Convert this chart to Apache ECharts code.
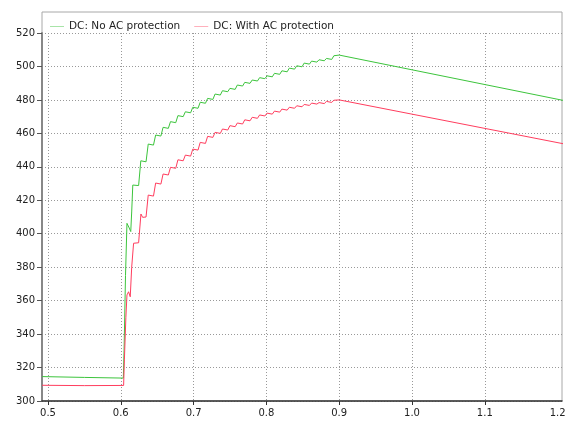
<!DOCTYPE html>
<html>
<head>
<meta charset="utf-8">
<script src="https://cdn.jsdelivr.net/npm/echarts@6/dist/echarts.min.js"></script>
<style>
  html, body { margin: 0; padding: 0; background: #fff; }
  #chart { width: 568px; height: 421px; }
</style>
</head>
<body>
<div id="chart"></div>
<script>
var seriesNames = ["DC: No AC protection", "DC: With AC protection"];
var xLabels = [0.5, 0.6, 0.7, 0.8, 0.9, 1.0, 1.1, 1.2];
var xGrid = [0.5, 0.6, 0.7, 0.8, 0.9, 1.0, 1.1];

// [time, voltage]
var noProtection = [
  [0.492, 314.6], [0.55, 314.1], [0.6035, 313.7], [0.6045, 330], [0.6065, 375], [0.6085, 406.2],
  [0.611, 404], [0.6137, 401.3], [0.615, 413], [0.6165, 429.1], [0.6245, 428.8],
  [0.6275, 443.6], [0.630, 442.7], [0.6347, 443],
  [0.6377, 453.6], [0.6402, 452.7], [0.6449, 453],
  [0.6479, 459], [0.6504, 458.1], [0.6551, 458.4],
  [0.6581, 463.6], [0.6606, 462.7], [0.6653, 463],
  [0.6683, 467], [0.6708, 466.1], [0.6755, 466.4],
  [0.6785, 470.6], [0.681, 469.7], [0.6857, 470],
  [0.6887, 472.9], [0.6912, 472], [0.6959, 472.3],
  [0.6989, 475.6], [0.7014, 474.7], [0.7061, 475],
  [0.7091, 478.6], [0.7116, 477.7], [0.7163, 478],
  [0.7193, 480.9], [0.7218, 480], [0.7265, 480.3],
  [0.7295, 483.5], [0.732, 482.6], [0.7367, 482.9],
  [0.7397, 485.5], [0.7422, 484.6], [0.7469, 484.9],
  [0.7499, 486.9], [0.7524, 486], [0.7571, 486.3],
  [0.7601, 488.9], [0.7626, 488], [0.7673, 488.3],
  [0.7703, 490.5], [0.7728, 489.6], [0.7775, 489.9],
  [0.7805, 491.9], [0.783, 491], [0.7877, 491.3],
  [0.7907, 493.3], [0.7932, 492.4], [0.7979, 492.7],
  [0.8009, 494.4], [0.8034, 493.5], [0.8081, 493.8],
  [0.8111, 495.9], [0.8136, 495], [0.8183, 495.3],
  [0.8213, 497.4], [0.8238, 496.5], [0.8285, 496.8],
  [0.8315, 499], [0.834, 498.1], [0.8387, 498.4],
  [0.8417, 500.4], [0.8442, 499.5], [0.8489, 499.8],
  [0.8519, 502], [0.8544, 501.1], [0.8591, 501.4],
  [0.8621, 503.2], [0.8646, 502.3], [0.8693, 502.6],
  [0.8723, 504], [0.8748, 503.1], [0.8795, 503.4],
  [0.8825, 504.8], [0.885, 503.9], [0.8897, 504.2],
  [0.8927, 506.4], [0.8952, 505.5],
  [0.9, 506.8], [1.21, 479.5]
];

var withProtection = [
  [0.492, 309.4], [0.55, 309.2], [0.6039, 309.3], [0.605, 325], [0.607, 350], [0.6085, 363.4],
  [0.6107, 365.3], [0.613, 362.3], [0.615, 380], [0.6176, 394.3], [0.6245, 394.6],
  [0.6277, 411.8], [0.630, 409.8], [0.6347, 410],
  [0.6377, 423.1], [0.6402, 422.2], [0.6449, 422.5],
  [0.6479, 430.3], [0.6504, 429.4], [0.6551, 429.7],
  [0.6581, 435.7], [0.6606, 434.8], [0.6653, 435.1],
  [0.6683, 439.7], [0.6708, 438.8], [0.6755, 439.1],
  [0.6785, 444.2], [0.681, 443.3], [0.6857, 443.6],
  [0.6887, 447], [0.6912, 446.1], [0.6959, 446.4],
  [0.6989, 450.6], [0.7014, 449.7], [0.7061, 450],
  [0.7091, 454.6], [0.7116, 453.7], [0.7163, 454],
  [0.7193, 458.2], [0.7218, 457.3], [0.7265, 457.6],
  [0.7295, 460.6], [0.732, 459.7], [0.7367, 460],
  [0.7397, 462.6], [0.7422, 461.7], [0.7469, 462],
  [0.7499, 464.6], [0.7524, 463.7], [0.7571, 464],
  [0.7601, 466.2], [0.7626, 465.3], [0.7673, 465.6],
  [0.7703, 468.1], [0.7728, 467.2], [0.7775, 467.5],
  [0.7805, 469.6], [0.783, 468.7], [0.7877, 469],
  [0.7907, 471], [0.7932, 470.1], [0.7979, 470.4],
  [0.8009, 472.1], [0.8034, 471.2], [0.8081, 471.5],
  [0.8111, 473.3], [0.8136, 472.4], [0.8183, 472.7],
  [0.8213, 474.5], [0.8238, 473.6], [0.8285, 473.9],
  [0.8315, 475.6], [0.834, 474.7], [0.8387, 475],
  [0.8417, 476.5], [0.8442, 475.6], [0.8489, 475.9],
  [0.8519, 477.3], [0.8544, 476.4], [0.8591, 476.7],
  [0.8621, 478.1], [0.8646, 477.2], [0.8693, 477.5],
  [0.8723, 478.4], [0.8748, 477.5], [0.8795, 477.8],
  [0.8825, 479.1], [0.885, 478.2], [0.8897, 478.5],
  [0.8927, 479.8], [0.8952, 478.9],
  [0.9, 480], [1.21, 453.6]
];

var chartDom = document.getElementById("chart");
var chart = echarts.init(chartDom, null, { renderer: "canvas" });
var font = "DejaVu Sans";

var option = {
  animation: false,
  backgroundColor: "#fff",
  grid: {
    left: 42,
    right: 6,
    top: 33,
    bottom: 20,
    containLabel: false,
    outerBoundsMode: "none",
  },
  legend: {
    left: 45,
    top: 16,
    itemWidth: 14,
    itemHeight: 1,
    itemGap: 14,
    icon: "rect",
    textStyle: { fontFamily: font, fontSize: 10.5, color: "#222" },
    data: [
      { name: seriesNames[0], itemStyle: { color: "#a8e4a8" } },
      { name: seriesNames[1], itemStyle: { color: "#ffb0bc" } },
    ],
  },
  graphic: [
    {
      type: "rect",
      shape: { x: 42, y: 12, width: 520, height: 389 },
      style: { fill: "none", stroke: "#a8a8a8", lineWidth: 1 },
      z: 0,
    },
  ],
  xAxis: {
    type: "value",
    min: 0.4918,
    max: 1.206,
    axisLine: { show: true, onZero: false, lineStyle: { color: "#333", width: 1.5 } },
    axisTick: { show: true, length: 4, customValues: xGrid, lineStyle: { color: "#333" } },
    axisLabel: {
      customValues: xLabels,
      margin: 7,
      fontFamily: font,
      fontSize: 10,
      color: "#222",
      formatter: function (v) { return v.toFixed(1); },
    },
    splitLine: { show: true, lineStyle: { color: "#999", type: [1, 2], width: 1 } },
  },
  yAxis: {
    type: "value",
    min: 300,
    max: 520,
    interval: 20,
    axisLine: { show: true, onZero: false, lineStyle: { color: "#888", width: 2 } },
    axisTick: { show: true, length: 5, lineStyle: { color: "#555" } },
    axisLabel: { margin: 7, fontFamily: font, fontSize: 10, color: "#222" },
    splitLine: { show: true, lineStyle: { color: "#999", type: [1, 2], width: 1 } },
  },
  series: [
    {
      name: seriesNames[0],
      type: "line",
      data: noProtection,
      symbol: "none",
      showSymbol: false,
      clip: true,
      lineStyle: { color: "#3cc43c", width: 1 },
      itemStyle: { color: "#3cc43c" },
    },
    {
      name: seriesNames[1],
      type: "line",
      data: withProtection,
      symbol: "none",
      showSymbol: false,
      clip: true,
      lineStyle: { color: "#ff3d5e", width: 1 },
      itemStyle: { color: "#ff3d5e" },
    },
  ],
};

option && chart.setOption(option);
</script>
</body>
</html>
